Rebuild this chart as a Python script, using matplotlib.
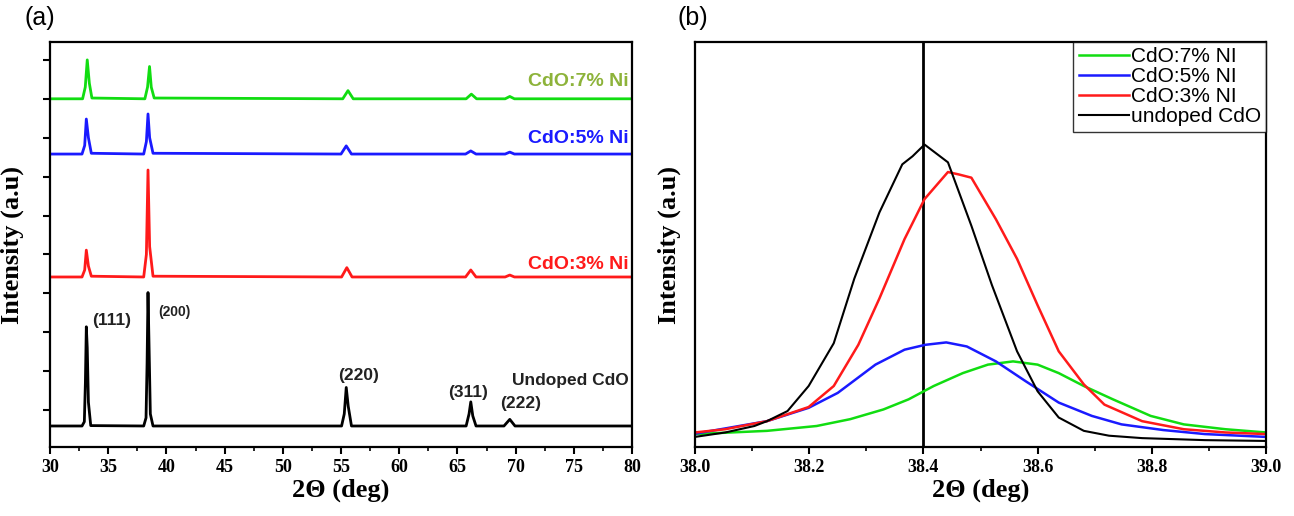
import matplotlib
matplotlib.use("Agg")
import matplotlib.pyplot as plt
from matplotlib.ticker import MultipleLocator

# ---- panel (a): full XRD patterns, stacked (breakpoints)
black_x = [30, 32.75, 32.95, 33.04, 33.12, 33.2, 33.3, 33.5, 38.05, 38.25, 38.34, 38.42, 38.5, 38.62, 38.85,
           55.05, 55.28, 55.45, 55.62, 55.9, 65.75, 66.0, 66.15, 66.32, 66.6, 69.0, 69.5, 69.95, 80]
black_y = [5.9, 5.9, 7, 17, 31.4, 26, 12, 6, 5.9, 8, 22, 40.2, 28, 9, 5.9,
           5.9, 9, 15.8, 11, 5.9, 5.9, 9, 12.1, 8.5, 5.9, 5.9, 7.6, 5.9, 5.9]

red_x = [30, 32.75, 32.98, 33.12, 33.3, 33.55, 38.05, 38.28, 38.42, 38.56, 38.85,
         55.05, 55.5, 55.95, 65.7, 66.15, 66.6, 69.1, 69.5, 69.9, 80]
red_y = [44.2, 44.2, 46, 51.1, 47, 44.4, 44.2, 50, 71.7, 52, 44.4,
         44.2, 46.6, 44.2, 44.2, 46.0, 44.2, 44.2, 44.7, 44.2, 44.2]

blue_x = [30, 32.75, 32.98, 33.12, 33.3, 33.55, 38.05, 38.28, 38.42, 38.56, 38.85,
          55.0, 55.45, 55.9, 65.7, 66.15, 66.6, 69.1, 69.5, 69.9, 80]
blue_y = [75.8, 75.8, 78, 84.8, 80, 76.0, 75.8, 79, 86.1, 80, 76.0,
          75.8, 77.9, 75.8, 75.8, 76.6, 75.8, 75.8, 76.3, 75.8, 75.8]

green_x = [30, 32.8, 33.03, 33.2, 33.38, 33.6, 38.15, 38.38, 38.55, 38.7, 38.95,
           55.15, 55.6, 56.05, 65.75, 66.2, 66.65, 69.1, 69.5, 69.9, 80]
green_y = [90.0, 90.0, 93, 100.0, 94, 90.2, 90.0, 93, 98.3, 93, 90.2,
           90.0, 92.1, 90.0, 90.0, 91.2, 90.0, 90.0, 90.6, 90.0, 90.0]

hkl_labels = ["(111)", "(200)", "(220)", "(311)", "(222)"]
hkl_x = [35.3, 40.7, 56.5, 65.9, 70.4]
hkl_y = [32.9, 35.1, 19.0, 14.6, 11.7]

# ---- panel (b): zoom on the (200) peak
b_black_x = [38.0, 38.053, 38.104, 38.126, 38.162, 38.199, 38.243, 38.279, 38.323, 38.363, 38.381, 38.402,
             38.443, 38.484, 38.52, 38.564, 38.6, 38.637, 38.681, 38.725, 38.783, 38.893, 39.0]
b_black_y = [2.2, 3.3, 4.9, 6.1, 8.6, 14.8, 25.4, 41.4, 57.8, 69.7, 71.7, 74.6,
             70.2, 54.5, 39.8, 23.4, 13.5, 7.0, 3.7, 2.5, 1.9, 1.4, 1.2]

b_red_x = [38.0, 38.053, 38.126, 38.199, 38.243, 38.286, 38.323, 38.367, 38.402, 38.443, 38.462,
           38.484, 38.527, 38.564, 38.6, 38.637, 38.681, 38.717, 38.783, 38.856, 38.929, 39.0]
b_red_y = [3.3, 4.1, 6.1, 9.6, 14.8, 25.0, 36.5, 51.2, 61.1, 67.8, 67.2,
           66.4, 56.1, 46.3, 34.8, 23.4, 15.2, 10.2, 6.1, 4.1, 3.3, 2.9]

b_blue_x = [38.0, 38.053, 38.126, 38.199, 38.25, 38.316, 38.367, 38.403, 38.44, 38.476, 38.527,
            38.579, 38.637, 38.695, 38.747, 38.82, 38.893, 39.0]
b_blue_y = [3.0, 4.3, 6.1, 9.4, 13.1, 20.1, 23.8, 25.0, 25.6, 24.6, 20.9,
            16.0, 10.7, 7.4, 5.3, 3.9, 2.9, 2.2]

b_green_x = [38.0, 38.126, 38.213, 38.272, 38.33, 38.374, 38.418, 38.469, 38.513, 38.557, 38.6,
             38.637, 38.681, 38.732, 38.798, 38.856, 38.929, 39.0]
b_green_y = [2.9, 3.7, 4.9, 6.6, 9.0, 11.5, 14.8, 18.0, 20.1, 20.9, 20.1,
             18.0, 14.8, 11.5, 7.4, 5.3, 4.1, 3.3]

GREEN = "#11dd11"
BLUE = "#1a1aff"
RED = "#ff1a1a"
SERIF = "Liberation Serif"
SANS = "Liberation Sans"


def style_ticks(ax, size=13):
    for lab in ax.get_xticklabels() + ax.get_yticklabels():
        lab.set_fontfamily(SERIF)
        lab.set_fontweight("bold")
        lab.set_fontsize(size)


def main():
    fig = plt.figure(figsize=(12.94, 5.16), dpi=100)
    ax1 = fig.add_axes([50 / 1294, 69 / 516, 582 / 1294, 405 / 516])
    ax2 = fig.add_axes([695 / 1294, 69 / 516, 571 / 1294, 405 / 516])

    # (a)
    ax1.plot(black_x, black_y, color="black", lw=2.0)
    ax1.plot(red_x, red_y, color=RED, lw=2.0)
    ax1.plot(blue_x, blue_y, color=BLUE, lw=2.0)
    ax1.plot(green_x, green_y, color=GREEN, lw=2.0)
    ax1.set_xlim(30, 80)
    ax1.set_ylim(0.5, 104.6)
    ax1.xaxis.set_major_locator(MultipleLocator(5))
    ax1.xaxis.set_minor_locator(MultipleLocator(2.5))
    ax1.yaxis.set_major_locator(MultipleLocator(10))
    ax1.set_yticklabels([])
    ax1.tick_params(direction="out", length=5, width=1.5)
    ax1.tick_params(which="minor", direction="out", length=3, width=1.2)
    ax1.set_xlabel("2Θ (deg)", fontfamily=SERIF, fontweight="bold", fontsize=19, labelpad=2)
    ax1.set_ylabel("Intensity (a.u)", fontfamily=SERIF, fontweight="bold", fontsize=19, labelpad=10)
    style_ticks(ax1)

    for lab, x, y in zip(hkl_labels, hkl_x, hkl_y):
        fs = 10 if lab == "(200)" else 12.5
        ax1.text(x, y, lab, ha="center", va="center", fontsize=fs, fontweight="bold",
                 fontfamily=SANS, color="#222222")
    ax1.text(79.7, 17.5, "Undoped CdO", ha="right", va="center", fontsize=12.5,
             fontweight="bold", fontfamily=SANS, color="#222222")
    ax1.text(79.7, 94.4, "CdO:7% Ni", ha="right", va="center", fontsize=14,
             fontweight="bold", fontfamily=SANS, color="#8db33a")
    ax1.text(79.7, 79.9, "CdO:5% Ni", ha="right", va="center", fontsize=14,
             fontweight="bold", fontfamily=SANS, color=BLUE)
    ax1.text(79.7, 47.3, "CdO:3% Ni", ha="right", va="center", fontsize=14,
             fontweight="bold", fontfamily=SANS, color=RED)

    # (b)
    ax2.axvline(38.4, color="black", lw=2.0)
    ax2.plot(b_green_x, b_green_y, color=GREEN, lw=1.8, label="CdO:7% NI")
    ax2.plot(b_blue_x, b_blue_y, color=BLUE, lw=1.8, label="CdO:5% NI")
    ax2.plot(b_red_x, b_red_y, color=RED, lw=1.8, label="CdO:3% NI")
    ax2.plot(b_black_x, b_black_y, color="black", lw=1.5, label="undoped CdO")
    ax2.set_xlim(38.0, 39.0)
    ax2.set_ylim(-0.3, 100)
    ax2.xaxis.set_major_locator(MultipleLocator(0.2))
    ax2.xaxis.set_minor_locator(MultipleLocator(0.1))
    ax2.xaxis.set_major_formatter(plt.FormatStrFormatter("%.1f"))
    ax2.set_yticks([])
    ax2.tick_params(direction="out", length=5, width=1.5)
    ax2.tick_params(which="minor", direction="out", length=3, width=1.2)
    ax2.set_xlabel("2Θ (deg)", fontfamily=SERIF, fontweight="bold", fontsize=19, labelpad=2)
    ax2.set_ylabel("Intensity (a.u)", fontfamily=SERIF, fontweight="bold", fontsize=19, labelpad=10)
    style_ticks(ax2)
    leg = ax2.legend(loc="upper right", frameon=True, fancybox=False, borderaxespad=0,
                     prop={"family": SANS, "size": 15}, handlelength=2.4,
                     handletextpad=0.1, labelspacing=0.05, borderpad=0.25)
    leg.get_frame().set_edgecolor("black")
    leg.get_frame().set_linewidth(1.0)

    for ax in (ax1, ax2):
        for s in ax.spines.values():
            s.set_linewidth(1.6)

    fig.text(40 / 1294, 1 - 18 / 516, "(a)", ha="center", va="center", fontsize=18, fontfamily=SANS)
    fig.text(693 / 1294, 1 - 18 / 516, "(b)", ha="center", va="center", fontsize=18, fontfamily=SANS)

    fig.savefig("out.png", dpi=100)


if __name__ == "__main__":
    main()
